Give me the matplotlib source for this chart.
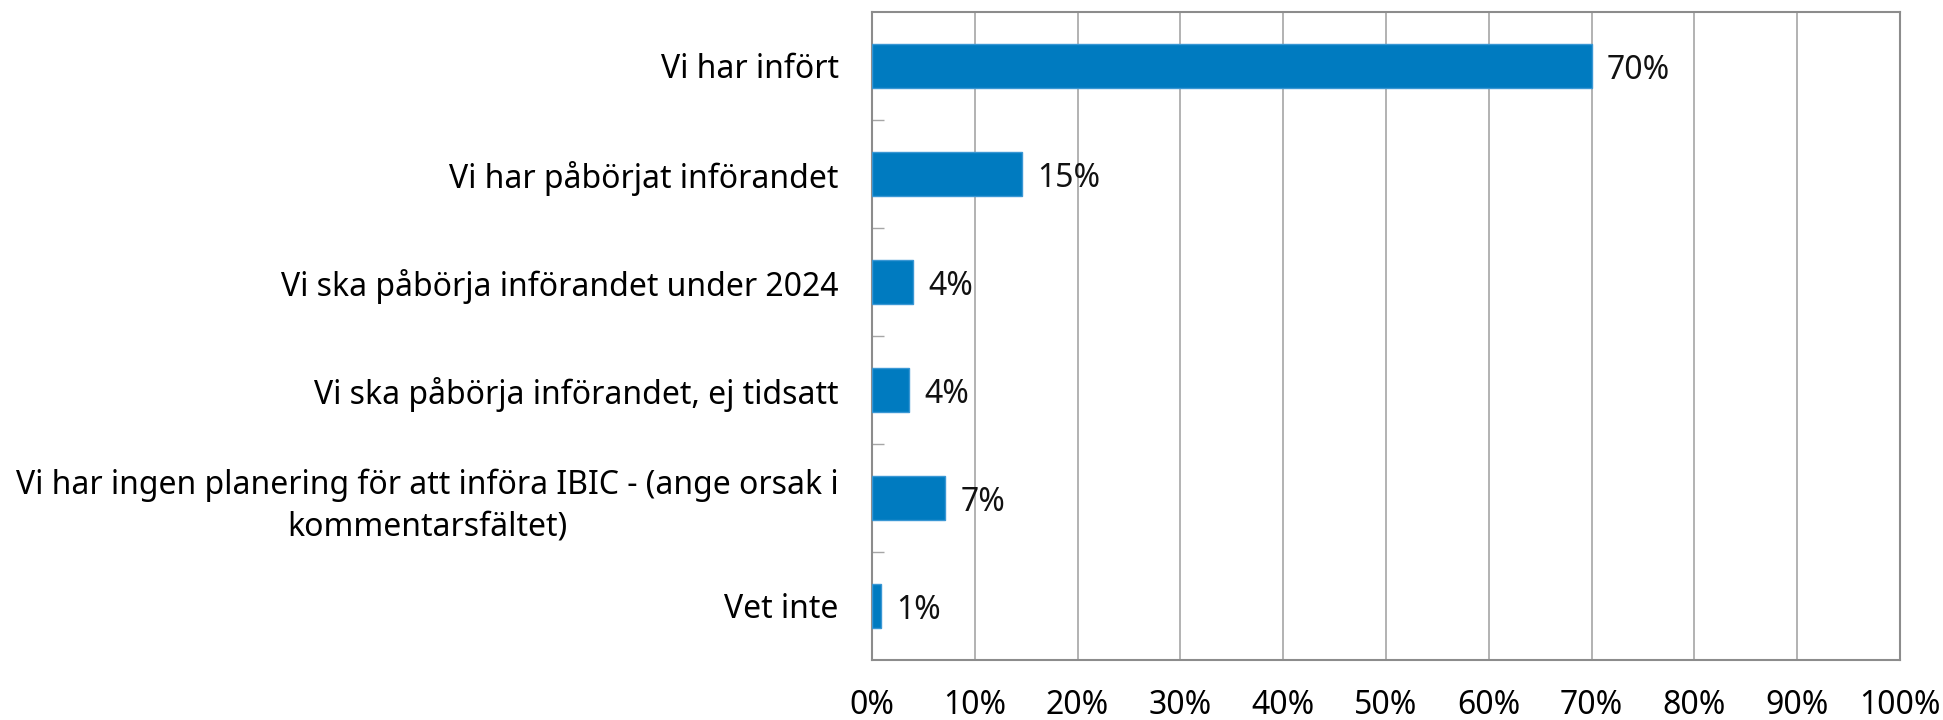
import matplotlib
matplotlib.use("Agg")
import matplotlib.pyplot as plt
import numpy as np

plt.rcParams['font.family'] = ['Noto Sans', 'DejaVu Sans']

categories = [
    "Vi har infört",
    "Vi har påbörjat införandet",
    "Vi ska påbörja införandet under 2024",
    "Vi ska påbörja införandet, ej tidsatt",
    "Vi har ingen planering för att införa IBIC - (ange orsak i\nkommentarsfältet)",
    "Vet inte",
]
values = [70.0, 14.6, 4.0, 3.6, 7.1, 0.9]
value_labels = ["70%", "15%", "4%", "4%", "7%", "1%"]
xtick_values = [0, 10, 20, 30, 40, 50, 60, 70, 80, 90, 100]
xtick_labels = [f"{v}%" for v in xtick_values]

FS = 23
grid_col = '#a6a6a6'
spine_col = '#8c8c8c'

fig = plt.figure(figsize=(19.43, 7.2), dpi=100)
ax = fig.add_axes([872/1943, 60/720, 1028/1943, 648/720])

n = len(categories)
y = np.arange(n)
ax.barh(y, values, height=0.4, color='#007BC0', edgecolor='#3a97d4', linewidth=1, zorder=3)

ax.set_xlim(0, 100)
ax.set_ylim(n - 0.5, -0.5)

ax.set_xticks(xtick_values)
ax.set_xticklabels(xtick_labels, fontsize=FS)
ax.tick_params(axis='x', length=0, pad=21)

ax.set_yticks(y)
ax.set_yticklabels(categories, fontsize=FS)
for t in ax.get_yticklabels():
    t.set_multialignment('center')
    t.set_linespacing(1.35)
ax.tick_params(axis='y', which='major', length=0, pad=24)
ax.set_yticks(np.arange(0.5, n - 0.5, 1), minor=True)
ax.tick_params(axis='y', which='minor', direction='in', length=8.4, width=1, color=grid_col)

ax.grid(axis='x', color=grid_col, linewidth=1.2, zorder=0)
ax.set_axisbelow(True)
for s in ax.spines.values():
    s.set_color(spine_col)
    s.set_linewidth(1.5)

for yi, v, lab in zip(y, values, value_labels):
    ax.annotate(lab, (v, yi), xytext=(11, -3), textcoords='offset points',
                va='center', ha='left', fontsize=FS, color='#111111', zorder=4)

fig.savefig("out.png", dpi=100, facecolor='white')
